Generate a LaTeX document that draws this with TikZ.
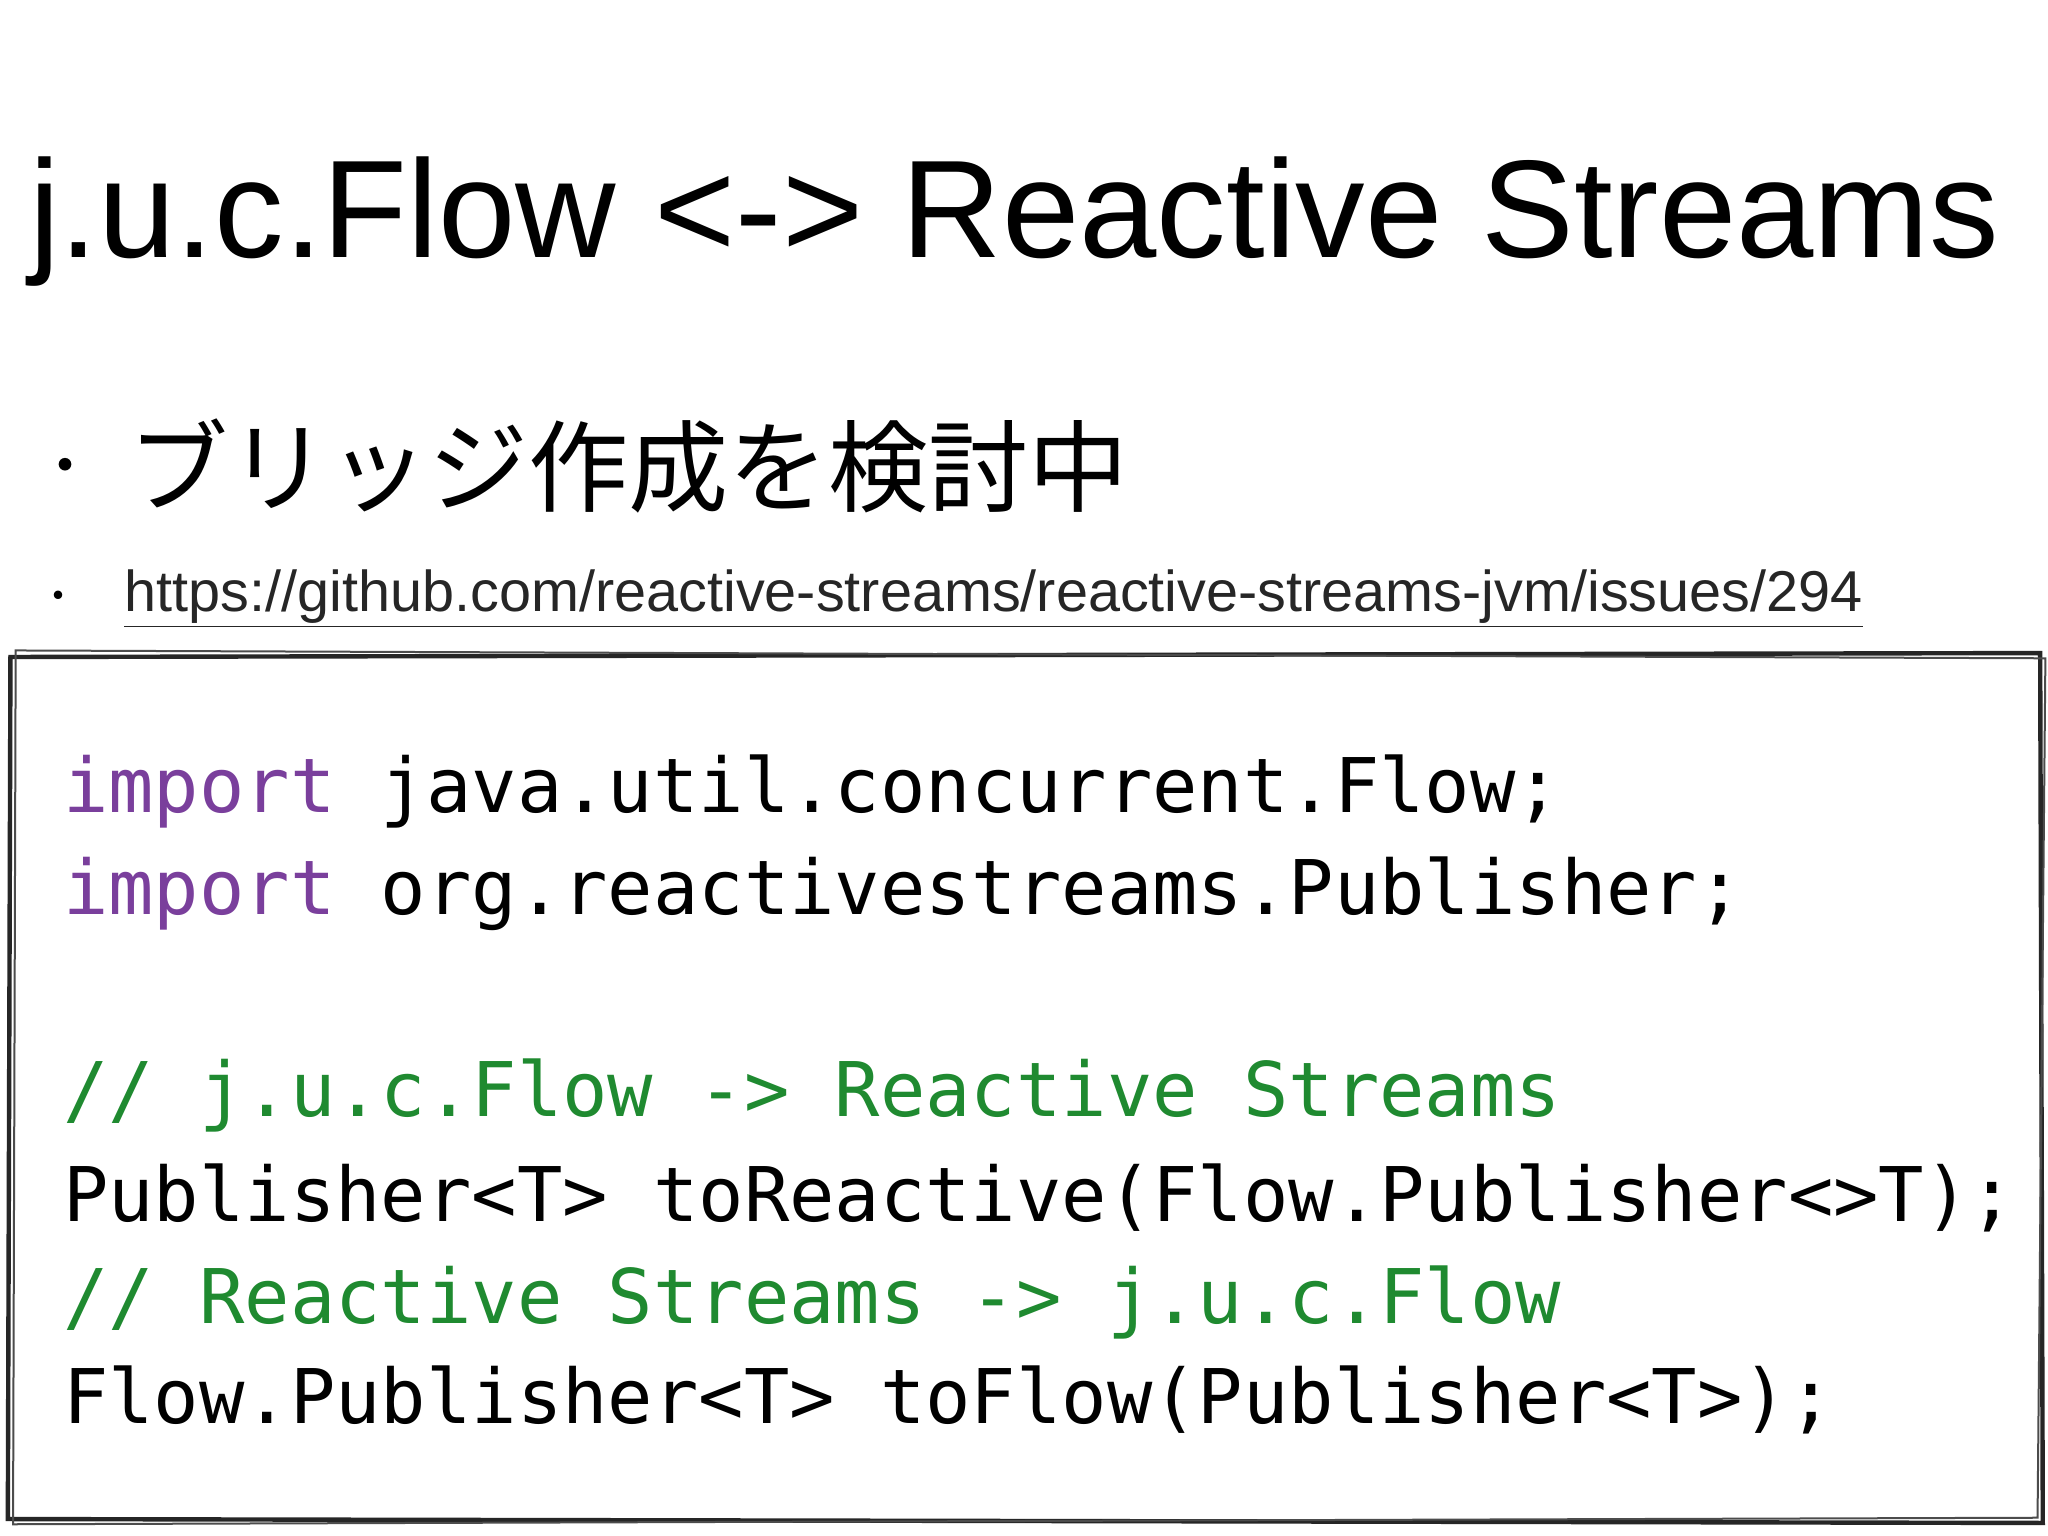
\documentclass[tikz,border=0pt]{standalone}
\usepackage{fontspec}
\setmainfont{Noto Sans CJK JP}
\newfontfamily\latinsans{Liberation Sans}
\setmonofont{DejaVu Sans Mono}
\definecolor{kw}{HTML}{7A3F9C}
\definecolor{cm}{HTML}{1F8A30}
\tikzset{code/.style={anchor=base west,inner sep=0,font=\ttfamily\fontsize{37.7}{40}\selectfont}}
\begin{document}
\begin{tikzpicture}[x=0.653pt,y=-0.653pt]
\useasboundingbox[fill=white] (0,0) rectangle (1568,1176);
\node[anchor=base west,inner sep=0,font=\latinsans\fontsize{69.5}{75}\selectfont] (title) at (22,197) {j.u.c.Flow <-> Reactive Streams};
\node[anchor=center,inner sep=0,font=\fontsize{30}{30}\selectfont] (b1) at (50,362) {・};
\node[anchor=base west,inner sep=0,font=\fontsize{50}{55}\selectfont] (t1) at (98,386) {ブリッジ作成を検討中};
\node[anchor=center,inner sep=0,font=\fontsize{20}{20}\selectfont] (b2) at (45,460) {・};
\node[anchor=base west,inner sep=0,font=\latinsans\fontsize{28.8}{30}\selectfont,text=black!85] (url) at (95,468) {\underline{https://github.com/reactive-streams/reactive-streams-jvm/issues/294}};
\draw[line width=2.2pt,black!85] (8,503) -- (1562,500) -- (1564,1166) -- (6,1163) -- cycle;
\draw[line width=1pt,black!70] (12,498) -- (1566,504) -- (1560,1162) -- (10,1167) -- cycle;
\node[code] (l1) at (48,622) {\textcolor{kw}{import} java.util.concurrent.Flow;};
\node[code] (l2) at (48,700) {\textcolor{kw}{import} org.reactivestreams.Publisher;};
\node[code,text=cm] (l3) at (48,855) {// j.u.c.Flow -> Reactive Streams};
\node[code] (l4) at (48,935) {Publisher<T> toReactive(Flow.Publisher<>T);};
\node[code,text=cm] (l5) at (48,1013) {// Reactive Streams -> j.u.c.Flow};
\node[code] (l6) at (48,1090) {Flow.Publisher<T> toFlow(Publisher<T>);};
\end{tikzpicture}
\end{document}
